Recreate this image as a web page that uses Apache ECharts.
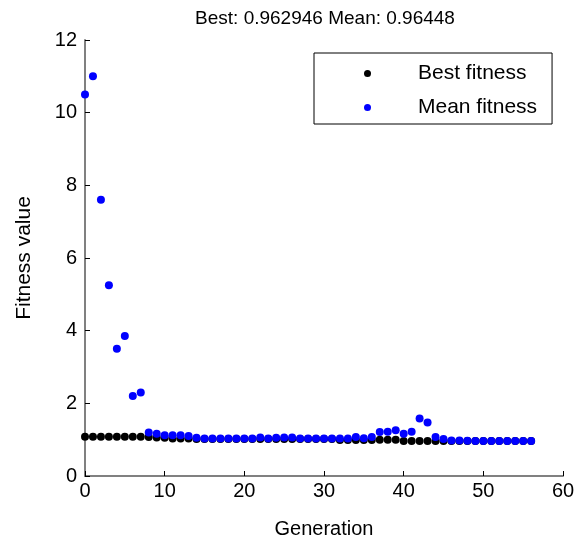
<!DOCTYPE html>
<html>
<head>
<meta charset="utf-8">
<script src="https://cdn.jsdelivr.net/npm/echarts@6/dist/echarts.min.js"></script>
<style>
  html, body { margin: 0; padding: 0; background: #fff; }
  #chart { width: 588px; height: 544px; }
</style>
</head>
<body>
<div id="chart"></div>
<script>
// 数据
const generations = Array.from({ length: 57 }, (_, i) => i);
const bestFitness = [
  1.08, 1.08, 1.08, 1.08, 1.08, 1.08, 1.08, 1.08, 1.07, 1.06,
  1.05, 1.03, 1.03, 1.03, 1.02, 1.02, 1.02, 1.02, 1.02, 1.02,
  1.02, 1.02, 1.02, 1.02, 1.02, 1.02, 1.02, 1.02, 1.02, 1.02,
  1.02, 1.02, 0.99, 0.99, 0.99, 0.99, 0.99, 1.0, 1.0, 1.0,
  0.963, 0.963, 0.963, 0.963, 0.963, 0.963, 0.963, 0.963, 0.963, 0.963,
  0.963, 0.963, 0.963, 0.963, 0.963, 0.963, 0.962946
];
const meanFitness = [
  10.5, 11.0, 7.6, 5.25, 3.5, 3.85, 2.2, 2.3, 1.2, 1.16,
  1.12, 1.12, 1.12, 1.1, 1.05, 1.03, 1.03, 1.03, 1.03, 1.03,
  1.03, 1.03, 1.06, 1.03, 1.05, 1.06, 1.06, 1.03, 1.03, 1.03,
  1.03, 1.03, 1.03, 1.03, 1.07, 1.04, 1.07, 1.21, 1.22, 1.26,
  1.16, 1.22, 1.58, 1.47, 1.07, 1.02, 0.98, 0.98, 0.97, 0.966,
  0.966, 0.965, 0.965, 0.965, 0.965, 0.964, 0.96448
];
const titleText = 'Best: 0.962946 Mean: 0.96448';

const font = 'Liberation Sans, Arial, sans-serif';
const myChart = echarts.init(document.getElementById('chart'));

const axisCommon = {
  axisLine: { show: true, lineStyle: { color: '#808080', width: 2 } },
  axisTick: { show: true, inside: true, length: 5, lineStyle: { color: '#000', width: 1 } },
  splitLine: { show: false },
  axisLabel: { color: '#000', fontSize: 20, fontFamily: font }
};

myChart.setOption({
  animation: false,
  backgroundColor: '#fff',
  title: {
    text: titleText,
    left: 320, top: 4, textAlign: 'center',
    textStyle: { color: '#000', fontSize: 19, fontWeight: 'normal', fontFamily: font }
  },
  grid: { left: 85, right: 25, top: 40, bottom: 67 },
  legend: {
    orient: 'vertical',
    left: 314, top: 53,
    padding: [10, 15, 6, 50],
    itemGap: 13,
    itemWidth: 7, itemHeight: 7,
    borderColor: '#000', borderWidth: 1,
    backgroundColor: '#fff',
    textStyle: { color: '#000', fontSize: 21, lineHeight: 20, fontFamily: font, padding: [0, 0, 0, 42] },
    data: [
      { name: 'Best fitness', icon: 'circle' },
      { name: 'Mean fitness', icon: 'circle' }
    ]
  },
  xAxis: Object.assign({}, axisCommon, {
    type: 'value', min: 0, max: 60, interval: 10,
    name: 'Generation', nameLocation: 'middle', nameGap: 43,
    nameTextStyle: { color: '#000', fontSize: 20, fontFamily: font },
    axisLabel: Object.assign({}, axisCommon.axisLabel, { margin: 5 })
  }),
  yAxis: Object.assign({}, axisCommon, {
    type: 'value', min: 0, max: 12, interval: 2,
    name: 'Fitness value', nameLocation: 'middle', nameGap: 50,
    nameTextStyle: { color: '#000', fontSize: 21, fontFamily: font }
  }),
  series: [
    {
      name: 'Best fitness', type: 'scatter', symbolSize: 8,
      itemStyle: { color: '#000', opacity: 1 },
      data: generations.map((g, i) => [g, bestFitness[i]])
    },
    {
      name: 'Mean fitness', type: 'scatter', symbolSize: 8,
      itemStyle: { color: '#0000ff', opacity: 1 },
      data: generations.map((g, i) => [g, meanFitness[i]])
    }
  ]
});
</script>
</body>
</html>
